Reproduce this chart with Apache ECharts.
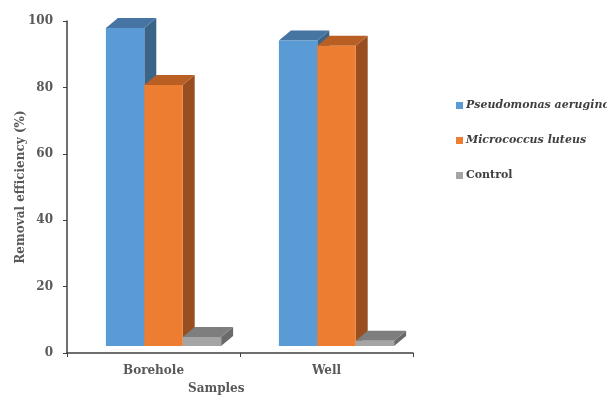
<!DOCTYPE html>
<html>
<head>
<meta charset="utf-8">
<script src="https://cdn.jsdelivr.net/npm/echarts@6/dist/echarts.min.js"></script>
<style>
  html, body { margin: 0; padding: 0; background: #fff; }
  #chart { width: 607px; height: 396px; }
</style>
</head>
<body>
<div id="chart"></div>
<script>
// Removal efficiency per sample type
const categories = ['Borehole', 'Well'];
const seriesNames = ['Pseudomonas aeruginos', 'Micrococcus luteus', 'Control'];
const pseudomonas = [95.8, 92.0];
const micrococcus = [78.6, 90.4];
const control = [2.7, 1.6];
const yTicks = [0, 20, 40, 60, 80, 100];

// front / top / side shades for each column
const palette = [
  { front: '#5B9BD5', top: '#4675A3', side: '#3B6489' },
  { front: '#ED7D31', top: '#BA5F24', side: '#9A4D1E' },
  { front: '#A5A5A5', top: '#7E7E7E', side: '#6A6A6A' }
];

const BAR_FRAC = 0.222;   // column width as share of the category band
const SHIFT_X = 10, SHIFT_Y = 7;   // floor depth offset of the front faces
const DEPTH_X = 12, DEPTH_Y = 10;  // visible depth of each column

function makeRender(idx) {
  const c = palette[idx];
  return function (params, api) {
    const cat = api.value(0);
    const val = api.value(1);
    const base = api.coord([cat, 0]);
    const top = api.coord([cat, val]);
    const band = api.size([1, 0])[0];
    const w = band * BAR_FRAC;
    const x0 = base[0] + SHIFT_X + (idx - 1.5) * w;
    const x1 = x0 + w;
    const yb = base[1] - SHIFT_Y;
    const yt = top[1] - SHIFT_Y;
    return {
      type: 'group',
      children: [
        { type: 'polygon', shape: { points: [[x1, yt], [x1 + DEPTH_X, yt - DEPTH_Y], [x1 + DEPTH_X, yb - DEPTH_Y], [x1, yb]] },
          style: { fill: c.side } },
        { type: 'polygon', shape: { points: [[x0, yt], [x1, yt], [x1 + DEPTH_X, yt - DEPTH_Y], [x0 + DEPTH_X, yt - DEPTH_Y]] },
          style: { fill: c.top } },
        { type: 'rect', shape: { x: x0, y: yt, width: w, height: yb - yt },
          style: { fill: c.front } }
      ]
    };
  };
}

const values = [pseudomonas, micrococcus, control];
const series = values.map((arr, i) => ({
  name: seriesNames[i],
  type: 'custom',
  renderItem: makeRender(i),
  itemStyle: { color: palette[i].front },
  encode: { x: 0, y: 1 },
  data: arr.map((v, k) => [k, v])
}));

const axisFont = { fontFamily: 'DejaVu Serif', fontWeight: 'bold', fontSize: 12, color: '#595959' };

const chart = echarts.init(document.getElementById('chart'), null, { renderer: 'canvas' });
chart.setOption({
  animation: false,
  grid: { left: 67, top: 21, right: 194, bottom: 43, containLabel: false, outerBoundsMode: 'none' },
  legend: {
    orient: 'vertical',
    left: 451,
    top: 95,
    itemGap: 24,
    itemWidth: 7,
    itemHeight: 7,
    icon: 'rect',
    data: [
      { name: seriesNames[0], textStyle: { fontStyle: 'italic' } },
      { name: seriesNames[1], textStyle: { fontStyle: 'italic' } },
      { name: seriesNames[2] }
    ],
    textStyle: { fontFamily: 'DejaVu Serif', fontWeight: 'bold', fontSize: 11, color: '#404040', padding: [0, 0, 0, -2] }
  },
  xAxis: {
    type: 'category',
    data: categories,
    axisLine: { lineStyle: { color: '#404040', width: 1.5 } },
    axisTick: { show: true, length: 4, lineStyle: { color: '#404040' } },
    axisLabel: Object.assign({ margin: 12 }, axisFont),
    splitLine: { show: false }
  },
  yAxis: {
    type: 'value',
    min: 0,
    max: 100,
    interval: 20,
    name: 'Removal efficiency (%)',
    nameLocation: 'middle',
    nameGap: 40,
    nameMoveOverlap: false,
    nameTextStyle: axisFont,
    axisLine: { show: true, lineStyle: { color: '#404040', width: 1.5 } },
    axisTick: { show: true, length: 4, lineStyle: { color: '#404040' } },
    axisLabel: Object.assign({ margin: 14, formatter: v => (yTicks.includes(v) ? String(v) : '') }, axisFont),
    splitLine: { show: false }
  },
  graphic: [
    { type: 'text', left: 188, top: 383, style: { text: 'Samples', fill: '#595959', font: 'bold 12px "DejaVu Serif"' } }
  ],
  series: series
});
</script>
</body>
</html>
